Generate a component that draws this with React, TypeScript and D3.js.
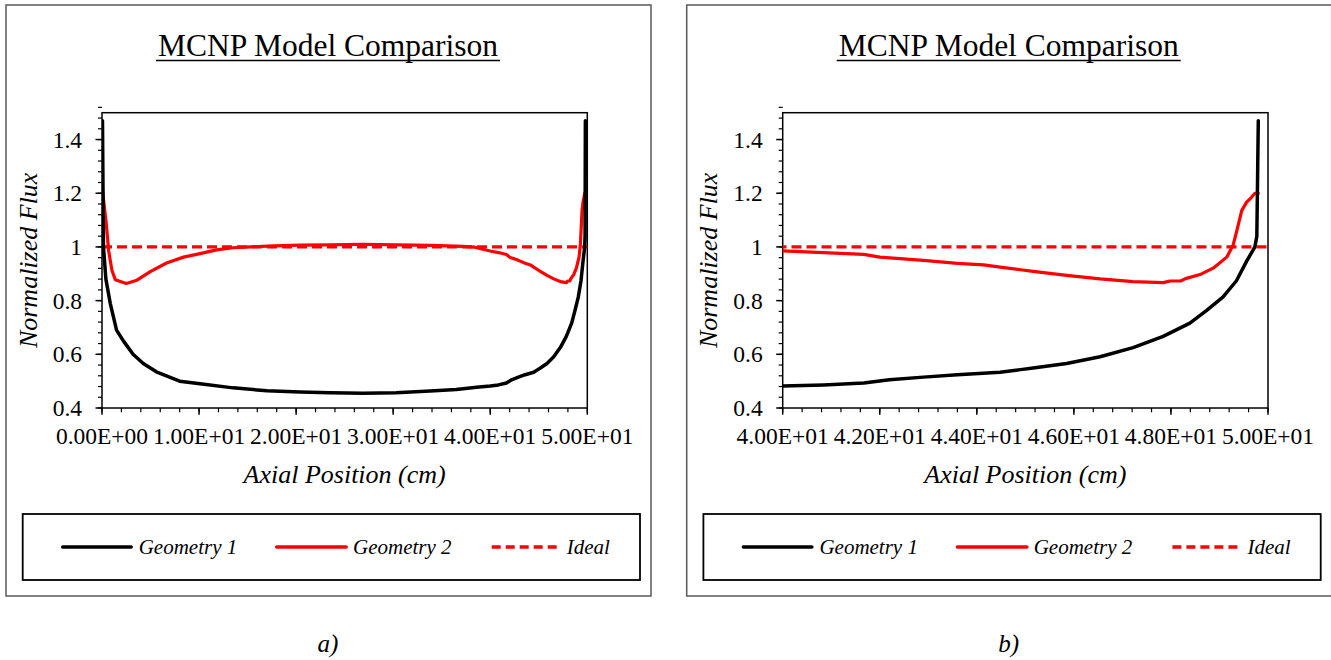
import React from "react";
import * as d3 from "d3";

// ---- Data ----
const geom1X = [0.05, 0.15, 0.4, 0.85, 1.5, 2.2, 3.2, 4.25, 5.6, 8.0, 10.1, 13.5, 17, 20.4, 23.5, 26.9, 30.3, 33.8, 36.5, 38.6, 40, 40.84, 41.67, 42.2, 42.9, 43.6, 44.48, 44.9, 45.16, 45.85, 46.54, 47.22, 47.84, 48.39, 48.73, 49.07, 49.35, 49.56, 49.73, 49.77, 49.8];
const geom1Y = [1.47, 1.0, 0.88, 0.79, 0.69, 0.65, 0.6, 0.566, 0.535, 0.5, 0.49, 0.475, 0.464, 0.46, 0.457, 0.455, 0.457, 0.463, 0.469, 0.477, 0.482, 0.486, 0.493, 0.505, 0.515, 0.524, 0.533, 0.543, 0.549, 0.566, 0.591, 0.625, 0.667, 0.716, 0.763, 0.813, 0.874, 0.947, 1.0, 1.04, 1.47];

const geom2X = [0.07, 0.44, 0.68, 1.02, 1.37, 2.5, 3.6, 4.93, 6.65, 8.4, 10.1, 11.8, 13.5, 17, 20.4, 23.5, 26.9, 30.3, 33.8, 37.2, 38.4, 40, 40.84, 41.67, 42.0, 42.9, 43.6, 44.14, 44.48, 44.9, 45.16, 45.85, 46.54, 47.22, 47.84, 47.98, 48.2, 48.3, 48.6, 48.87, 49.15, 49.28, 49.35, 49.46, 49.56, 49.66, 49.73, 49.8];
const geom2Y = [1.204, 1.087, 0.987, 0.913, 0.878, 0.864, 0.876, 0.907, 0.94, 0.962, 0.975, 0.989, 0.997, 1.003, 1.007, 1.008, 1.01, 1.008, 1.006, 1.002, 0.999, 0.985, 0.979, 0.972, 0.962, 0.95, 0.939, 0.933, 0.925, 0.915, 0.909, 0.894, 0.881, 0.871, 0.867, 0.873, 0.873, 0.882, 0.897, 0.921, 0.962, 1.006, 1.055, 1.136, 1.167, 1.185, 1.2, 1.2];

const idealX = [0, 50];
const idealY = [1, 1];

const seriesNames = ["Geometry 1", "Geometry 2", "Ideal"];
const chartTitle = "MCNP Model Comparison";
const xAxisTitle = "Axial Position (cm)";
const yAxisTitle = "Normalized Flux";
const captions = ["a)", "b)"];

const yDomain = [0.4, 1.5];
const yMajorTicks = [0.4, 0.6, 0.8, 1.0, 1.2, 1.4];
const yMinorStep = 0.04;

const xDomainA = [0, 50];
const xMajorTicksA = [0, 10, 20, 30, 40, 50];
const xMinorStepA = 2;

const xDomainB = [40, 50];
const xMajorTicksB = [40, 42, 44, 46, 48, 50];
const xMinorStepB = 0.4;

// ---- helpers ----
const FONT = '"Liberation Serif", "Times New Roman", "DejaVu Serif", serif';

function fmtE(v: number): string {
  if (v === 0) return "0.00E+00";
  const e = Math.floor(Math.log10(Math.abs(v)) + 1e-9);
  const m = v / Math.pow(10, e);
  return m.toFixed(2) + "E" + (e < 0 ? "-" : "+") + String(Math.abs(e)).padStart(2, "0");
}
function fmtY(v: number): string {
  return String(+v.toFixed(1));
}

const zip = (xs: number[], ys: number[]) => xs.map((x, i) => [x, ys[i]] as [number, number]);

type PanelProps = {
  fx: number;
  idx: number;
  xDomain: number[];
  xMajor: number[];
  xMinorStep: number;
};

const T = (size: number, italic = false): React.CSSProperties => ({
  fontFamily: FONT,
  fontSize: size + "px",
  fontStyle: italic ? "italic" : "normal",
});

function Panel({ fx, idx, xDomain, xMajor, xMinorStep }: PanelProps) {
  const frameY = 5;
  const frameW = 645;
  const frameH = 591;
  const pl = fx + 96;
  const pr = fx + 581.3;
  const pt = 112.7;
  const pb = 408;

  const x = d3.scaleLinear().domain(xDomain).range([pl, pr]);
  const y = d3.scaleLinear().domain(yDomain).range([pb, pt]);
  const line = d3
    .line<[number, number]>()
    .x((d) => x(d[0]))
    .y((d) => y(d[1]));

  const nMinorX = Math.round((xDomain[1] - xDomain[0]) / xMinorStep);
  const xMinor = d3.range(0, nMinorX + 1).map((k) => xDomain[0] + k * xMinorStep);
  const nMinorY = Math.round((yDomain[1] - yDomain[0]) / yMinorStep);
  const yMinor = d3.range(0, nMinorY + 1).map((k) => yDomain[0] + k * yMinorStep);

  const clipId = "clip" + idx;
  const cx = (pl + pr) / 2;
  const cy = (pt + pb) / 2;

  const lgL = fx + 16.7;
  const lgT = 514;
  const lgW = 617.3;
  const lgH = 66;
  const lgY = 547;

  return (
    <g>
      <rect x={fx} y={frameY} width={frameW} height={frameH} fill="#fff" stroke="#595959" strokeWidth={1.5} />
      {/* Title */}
      <text x={fx + 322} y={56} textAnchor="middle" style={T(31.5)} fill="#000">
        {chartTitle}
      </text>
      <line x1={fx + 150} x2={fx + 494} y1={60.5} y2={60.5} stroke="#000" strokeWidth={1.5} />

      <defs>
        <clipPath id={clipId}>
          <rect x={pl} y={pt - 2} width={pr - pl + 2} height={pb - pt + 4} />
        </clipPath>
      </defs>

      {/* plot border */}
      <rect x={pl} y={pt} width={pr - pl} height={pb - pt} fill="none" stroke="#000" strokeWidth={1.5} />

      {/* y ticks */}
      {yMinor.map((v, i) => (
        <line key={"ym" + i} x1={pl - 4} x2={pl} y1={y(v)} y2={y(v)} stroke="#000" strokeWidth={1.2} />
      ))}
      {yMajorTicks.map((v, i) => (
        <g key={"yM" + i}>
          <line x1={pl - 6.5} x2={pl} y1={y(v)} y2={y(v)} stroke="#000" strokeWidth={1.5} />
          <text x={pl - 20} y={y(v) + 8} textAnchor="end" style={T(23.5)} fill="#000">
            {fmtY(v)}
          </text>
        </g>
      ))}

      {/* x ticks */}
      {xMinor.map((v, i) => (
        <line key={"xm" + i} x1={x(v)} x2={x(v)} y1={pb} y2={pb + 4.3} stroke="#000" strokeWidth={1.2} />
      ))}
      {xMajor.map((v, i) => (
        <g key={"xM" + i}>
          <line x1={x(v)} x2={x(v)} y1={pb} y2={pb + 6.7} stroke="#000" strokeWidth={1.5} />
          <text x={x(v)} y={444} textAnchor="middle" style={T(23.5)} fill="#000">
            {fmtE(v)}
          </text>
        </g>
      ))}

      {/* axis titles */}
      <text x={cx} y={482.7} textAnchor="middle" style={T(26, true)} fill="#000">
        {xAxisTitle}
      </text>
      <text
        transform={`translate(${fx + 30.5},${cy}) rotate(-90)`}
        textAnchor="middle"
        style={T(26, true)}
        fill="#000"
      >
        {yAxisTitle}
      </text>

      {/* series */}
      <g clipPath={`url(#${clipId})`}>
        <path d={line(zip(idealX, idealY)) || ""} fill="none" stroke="#ff0000" strokeWidth={3.2} strokeDasharray="10,5" />
        <path d={line(zip(geom2X, geom2Y)) || ""} fill="none" stroke="#ff0000" strokeWidth={3.2} strokeLinejoin="round" strokeLinecap="round" />
        <path d={line(zip(geom1X, geom1Y)) || ""} fill="none" stroke="#000" strokeWidth={3.5} strokeLinejoin="round" strokeLinecap="round" />
      </g>

      {/* legend */}
      <rect x={lgL} y={lgT} width={lgW} height={lgH} fill="#fff" stroke="#000" strokeWidth={1.8} />
      <line x1={lgL + 40} x2={lgL + 108.5} y1={lgY} y2={lgY} stroke="#000" strokeWidth={3.5} strokeLinecap="round" />
      <text x={lgL + 116} y={554} style={T(21, true)} fill="#000">
        {seriesNames[0]}
      </text>
      <line x1={lgL + 254} x2={lgL + 323.5} y1={lgY} y2={lgY} stroke="#ff0000" strokeWidth={3.5} strokeLinecap="round" />
      <text x={lgL + 330.3} y={554} style={T(21, true)} fill="#000">
        {seriesNames[1]}
      </text>
      <line x1={lgL + 469} x2={lgL + 538} y1={lgY} y2={lgY} stroke="#ff0000" strokeWidth={3.5} strokeDasharray="9,5" />
      <text x={lgL + 544} y={554} style={T(21, true)} fill="#000">
        {seriesNames[2]}
      </text>

      {/* caption */}
      <text x={fx + 322} y={651.5} textAnchor="middle" style={T(25, true)} fill="#000">
        {captions[idx]}
      </text>
    </g>
  );
}

export default function App() {
  return (
    <svg
      width={1331}
      height={660}
      viewBox="0 0 1331 660"
      style={{ position: "absolute", left: 0, top: 0, background: "#fff" }}
    >
      <rect x={0} y={0} width={1331} height={660} fill="#fff" />
      <Panel fx={6} idx={0} xDomain={xDomainA} xMajor={xMajorTicksA} xMinorStep={xMinorStepA} />
      <Panel fx={686.7} idx={1} xDomain={xDomainB} xMajor={xMajorTicksB} xMinorStep={xMinorStepB} />
    </svg>
  );
}
